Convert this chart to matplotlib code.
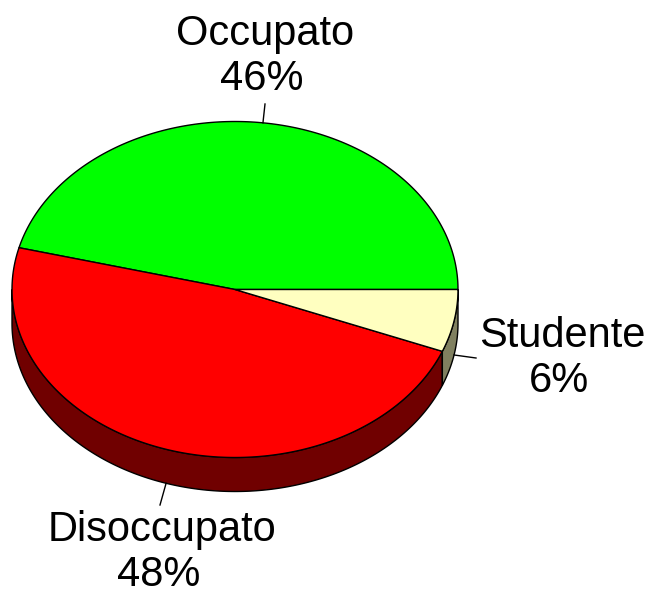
import numpy as np
import matplotlib.pyplot as plt
from matplotlib.patches import Polygon

labels = ['Occupato', 'Disoccupato', 'Studente']
values = [46, 48, 6]
top_colors = ['#00ff00', '#ff0000', '#ffffc0']
side_colors = ['#008000', '#700000', '#808060']

# ellipse geometry in pixel units
cx, cy, rx, ry, depth = 235, 289.5, 223, 168, 34

plt.rcParams['font.family'] = ['Liberation Sans', 'DejaVu Sans']
fig = plt.figure(figsize=(6.49, 5.92), dpi=100)
ax = fig.add_axes([0, 0, 1, 1])
ax.set_xlim(0, 649)
ax.set_ylim(592, 0)
ax.axis('off')


def rim(a0, a1, dy=0):
    t = np.radians(np.linspace(a0, a1, 200))
    return np.column_stack([cx + rx * np.cos(t), cy - ry * np.sin(t) + dy])


fracs = np.array(values) / sum(values)
edges = np.concatenate([[0], np.cumsum(fracs) * 360])

# side walls (only front half, 180..360 deg)
for i in range(len(values)):
    a0, a1 = max(edges[i], 180), min(edges[i + 1], 360)
    if a1 <= a0:
        continue
    top = rim(a0, a1)
    bot = rim(a1, a0, depth)
    ax.add_patch(Polygon(np.vstack([top, bot]), closed=True,
                         facecolor=side_colors[i], edgecolor='black', lw=1))

# top faces
for i in range(len(values)):
    pts = np.vstack([[cx, cy], rim(edges[i], edges[i + 1])])
    ax.add_patch(Polygon(pts, closed=True, facecolor=top_colors[i],
                         edgecolor='black', lw=1))

# labels with leader lines (x centre, baseline of first line)
label_pos = [(265, 45), (162, 541), (562, 347)]
line_end = [(265, 104), (160, 505), (476, 358)]
for i in range(len(values)):
    mid = np.radians((edges[i] + edges[i + 1]) / 2)
    x0 = cx + rx * np.cos(mid)
    y0 = cy - ry * np.sin(mid)
    if np.sin(mid) < 0:
        y0 += depth
    ax.plot([x0, line_end[i][0]], [y0, line_end[i][1]], color='black', lw=1)
    lx, ly = label_pos[i]
    ax.text(lx, ly, labels[i], ha='center', va='baseline', fontsize=30)
    ax.text(lx - 3, ly + 45, f'{values[i]}%', ha='center', va='baseline',
            fontsize=30)

fig.savefig('out.png', dpi=100)
